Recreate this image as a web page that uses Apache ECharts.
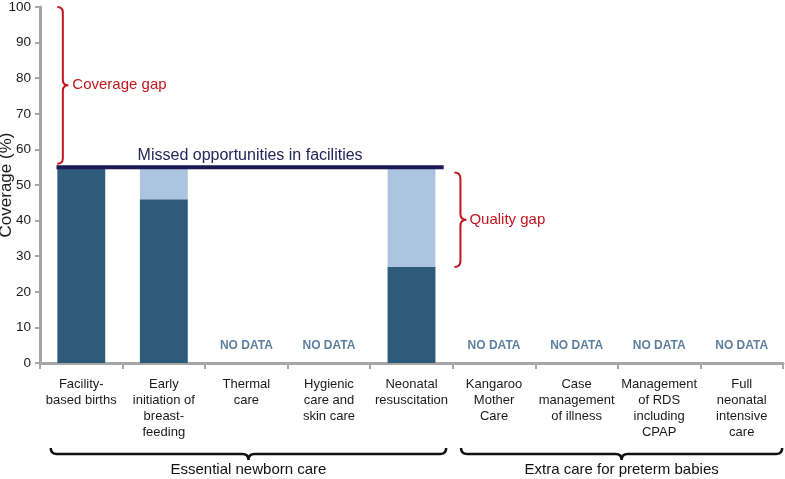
<!DOCTYPE html>
<html>
<head>
<meta charset="UTF-8">
<title>Coverage gaps</title>
<script src="https://cdn.jsdelivr.net/npm/echarts@6.0.0/dist/echarts.min.js"></script>
<style>
  html, body { margin: 0; padding: 0; background: #fff; }
  #chart { width: 785px; height: 479px; }
</style>
</head>
<body>
<div id="chart"></div>
<script>
// categories along the bottom
const categories = [
  'Facility-\nbased births',
  'Early\ninitiation of\nbreast-\nfeeding',
  'Thermal\ncare',
  'Hygienic\ncare and\nskin care',
  'Neonatal\nresuscitation',
  'Kangaroo\nMother\nCare',
  'Case\nmanagement\nof illness',
  'Management\nof RDS\nincluding\nCPAP',
  'Full\nneonatal\nintensive\ncare'
];
// coverage with quality (dark) and the extra part up to facility births (light)
const qualityCoverage = [55, 46, null, null, 27, null, null, null, null];
const qualityGapPart = [0, 9, null, null, 28, null, null, null, null];
const noDataIdx = [2, 3, 5, 6, 7, 8];
const yTicks = { min: 0, max: 100, step: 10 };
// annotation levels (%)
const facilityLevel = 55;
const coverageGap = [56, 100];
const qualityGap = [27, 53.5];
const groups = [
  { name: 'Essential newborn care', from: 0, to: 4, inset: [0.13, -0.08] },
  { name: 'Extra care for preterm babies', from: 5, to: 8, inset: [0.1, -0.01] }
];

const RED = '#c0161e';
const FONT = '"Liberation Sans", Arial, sans-serif';

function vBrace(x, y1, y2, d) {
  const ym = (y1 + y2) / 2, r = d;
  return `M${x} ${y1} Q${x + d} ${y1} ${x + d} ${y1 + r} L${x + d} ${ym - r} Q${x + d} ${ym} ${x + 2 * d} ${ym}` +
         ` Q${x + d} ${ym} ${x + d} ${ym + r} L${x + d} ${y2 - r} Q${x + d} ${y2} ${x} ${y2}`;
}
function hBrace(x1, x2, y, d) {
  const xm = (x1 + x2) / 2, r = d;
  return `M${x1} ${y} Q${x1} ${y + d} ${x1 + r} ${y + d} L${xm - r} ${y + d} Q${xm} ${y + d} ${xm} ${y + 2 * d}` +
         ` Q${xm} ${y + d} ${xm + r} ${y + d} L${x2 - r} ${y + d} Q${x2} ${y + d} ${x2} ${y}`;
}

// braces, the facilities line and their texts, placed through the axes
function renderNotes(params, api) {
  const band = api.size([1, 0])[0];
  const cx = (c, f) => api.coord([c, 0])[0] + f * band;
  const cy = v => api.coord([0, v])[1];
  const kids = [];
  const txt = (text, x, y, fill, size, align) => ({
    type: 'text',
    style: { text, x, y, fill, font: `${size}px ${FONT}`, align: align || 'left', verticalAlign: 'middle' }
  });

  const lx1 = cx(0, -0.3), lx2 = cx(4, 0.39), ly = cy(facilityLevel);
  kids.push({ type: 'line', shape: { x1: lx1, y1: ly, x2: lx2, y2: ly }, style: { stroke: '#1b1a55', lineWidth: 4 } });
  kids.push(txt('Missed opportunities in facilities', (lx1 + lx2) / 2, ly - 12, '#25245a', 16, 'center'));

  const cgT = cy(coverageGap[1]), cgB = cy(coverageGap[0]), cgX = cx(0, -0.29);
  kids.push({ type: 'path', shape: { pathData: vBrace(cgX, cgT, cgB, 5.5) }, style: { stroke: RED, lineWidth: 2, fill: 'none' } });
  kids.push(txt('Coverage gap', cgX + 15, (cgT + cgB) / 2, RED, 15));

  const qgT = cy(qualityGap[1]), qgB = cy(qualityGap[0]), qgX = cx(4, 0.52);
  kids.push({ type: 'path', shape: { pathData: vBrace(qgX, qgT, qgB, 6) }, style: { stroke: RED, lineWidth: 2, fill: 'none' } });
  kids.push(txt('Quality gap', qgX + 15, (qgT + qgB) / 2, RED, 15));

  const base = cy(0);
  groups.forEach(grp => {
    const x1 = cx(grp.from, -0.5 + grp.inset[0]);
    const x2 = cx(grp.to, 0.5 + grp.inset[1]);
    kids.push({ type: 'path', shape: { pathData: hBrace(x1, x2, base + 85, 6) }, style: { stroke: '#111', lineWidth: 2.5, fill: 'none' } });
    kids.push(txt(grp.name, (x1 + x2) / 2, base + 107, '#111', 15, 'center'));
  });
  return { type: 'group', children: kids };
}

const chart = echarts.init(document.getElementById('chart'));

chart.setOption({
  animation: false,
  grid: { left: 40, right: 2, top: 7, bottom: 116, outerBoundsMode: 'none' },
  xAxis: {
    type: 'category',
    data: categories,
    axisLine: { lineStyle: { color: '#a6a6a6', width: 3 } },
    axisTick: { show: true, length: 6, lineStyle: { color: '#a6a6a6', width: 2 } },
    axisLabel: {
      interval: 0, margin: 13, color: '#1a1a1a',
      fontFamily: FONT, fontSize: 13, lineHeight: 16
    }
  },
  yAxis: {
    type: 'value',
    min: yTicks.min, max: yTicks.max, interval: yTicks.step,
    name: 'Coverage (%)',
    nameLocation: 'middle',
    nameGap: 25,
    nameMoveOverlap: false,
    nameTextStyle: { color: '#1a1a1a', fontFamily: FONT, fontSize: 17 },
    axisLine: { show: true, lineStyle: { color: '#a6a6a6', width: 3 } },
    axisTick: { show: true, length: 5, lineStyle: { color: '#a6a6a6', width: 2 } },
    splitLine: { show: false },
    axisLabel: { margin: 9, color: '#1a1a1a', fontFamily: FONT, fontSize: 13.5 }
  },
  series: [
    {
      type: 'bar', stack: 'c', barWidth: '58%',
      data: qualityCoverage,
      itemStyle: { color: '#2f5b7b' }
    },
    {
      type: 'bar', stack: 'c', barWidth: '58%',
      data: qualityGapPart,
      itemStyle: { color: '#adc4e0' }
    },
    {
      type: 'scatter', symbolSize: 0,
      data: noDataIdx.map(i => [i, 5]),
      label: {
        show: true, position: 'inside', formatter: 'NO DATA',
        color: '#335f85', fontFamily: FONT, fontWeight: 'bold', fontSize: 12
      }
    },
    {
      type: 'custom', silent: true, clip: false, z: 10,
      data: [[0, 0]],
      renderItem: renderNotes
    }
  ]
});
</script>
</body>
</html>
